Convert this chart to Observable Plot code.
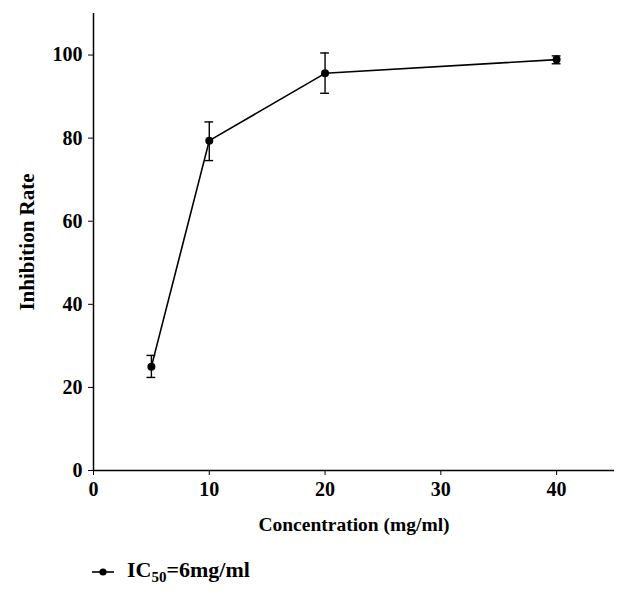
<!DOCTYPE html>
<html><head><meta charset="utf-8">
<script src="https://cdn.jsdelivr.net/npm/d3@7"></script>
<script src="https://cdn.jsdelivr.net/npm/@observablehq/plot@0.6"></script>
<style>
body{margin:0;background:#fff;font-family:"Liberation Serif","DejaVu Serif",serif;}
#legend{position:absolute;left:90px;top:557px;font:bold 22px "Liberation Serif",serif;color:#000;display:flex;align-items:center;}
#legend sub{font-size:15px;vertical-align:-5px;}
#chart g[aria-label="x-axis tick label"], #chart g[aria-label="y-axis tick label"]{font-size:20px;font-weight:bold;}
</style></head>
<body>
<div id="chart"></div>
<div id="legend"><svg width="26" height="12" style="margin-right:11px"><line x1="2" x2="24" y1="6" y2="6" stroke="#000" stroke-width="1.6"/><circle cx="13" cy="6" r="3.6" fill="#000"/></svg><span>IC<sub>50</sub>=6mg/ml</span></div>
<script>
const concentration = [5, 10, 20, 40];
const inhibition = [25.0, 79.4, 95.6, 98.9];
const errLow = [22.4, 74.6, 90.8, 97.9];
const errHigh = [27.7, 83.9, 100.5, 99.8];
const xTicks = [0, 10, 20, 30, 40];
const yTicks = [0, 20, 40, 60, 80, 100];

const data = concentration.map((c, i) => ({x: c, y: inhibition[i], lo: errLow[i], hi: errHigh[i]}));
const cap = 0.38;

const plot = Plot.plot({
  width: 640,
  height: 545,
  marginLeft: 93,
  marginRight: 26,
  marginTop: 13,
  marginBottom: 75,
  style: {fontFamily: "'Liberation Serif', serif", fontWeight: "bold", fontSize: "19px", color: "#000"},
  x: {domain: [0, 45]},
  y: {domain: [0, 110]},
  marks: [
    Plot.axisX({ticks: xTicks, tickSize: 5, tickPadding: 6, label: null, fontSize: 20, fontWeight: "bold"}),
    Plot.axisX({ticks: [], tickSize: 0, label: "Concentration (mg/ml)", labelAnchor: "center", labelArrow: "none", labelOffset: 60, fontSize: 19.5, fontWeight: "bold"}),
    Plot.axisY({ticks: yTicks, tickSize: 5, tickPadding: 6, label: null, fontSize: 20, fontWeight: "bold"}),
    Plot.axisY({ticks: [], tickSize: 0, label: "Inhibition Rate", labelAnchor: "center", labelArrow: "none", labelOffset: 74, fontSize: 21, fontWeight: "bold"}),
    Plot.ruleX([0], {stroke: "#000", strokeWidth: 1.5}),
    Plot.ruleY([0], {stroke: "#000", strokeWidth: 1.5}),
    Plot.ruleX(data, {x: "x", y1: "lo", y2: "hi", stroke: "#000", strokeWidth: 1.4}),
    Plot.ruleY(data, {y: "lo", x1: d => d.x - cap, x2: d => d.x + cap, stroke: "#000", strokeWidth: 1.4}),
    Plot.ruleY(data, {y: "hi", x1: d => d.x - cap, x2: d => d.x + cap, stroke: "#000", strokeWidth: 1.4}),
    Plot.line(data, {x: "x", y: "y", stroke: "#000", strokeWidth: 1.6}),
    Plot.dot(data, {x: "x", y: "y", r: 4, fill: "#000"})
  ]
});
document.getElementById("chart").appendChild(plot);
</script>
</body></html>
